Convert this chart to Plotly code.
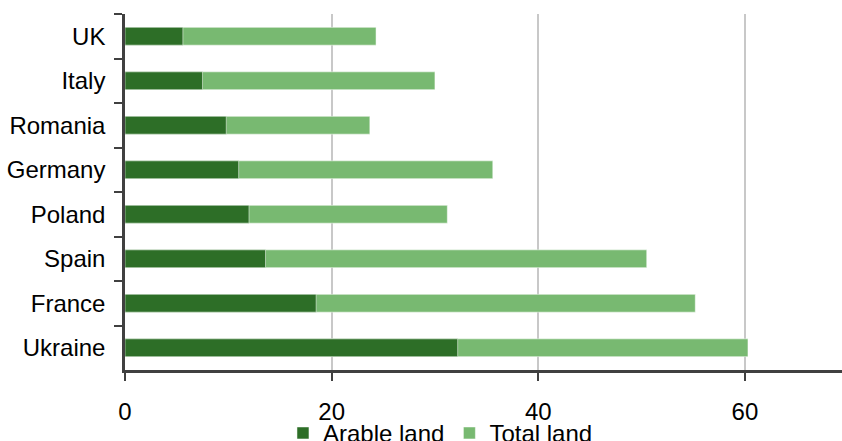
import plotly.graph_objects as go

# Land area by country (million hectares), listed top to bottom
countries = ["UK", "Italy", "Romania", "Germany", "Poland", "Spain", "France", "Ukraine"]
arable_land = [5.6, 7.5, 9.8, 11.0, 12.0, 13.6, 18.5, 32.2]
total_land = [24.3, 30.0, 23.7, 35.6, 31.2, 50.5, 55.2, 60.3]

x_ticks = [0, 20, 40, 60]

DARK_GREEN = "#2d6e27"
LIGHT_GREEN = "#78b971"
AXIS_GREY = "#404040"
FONT = "Liberation Sans, Arial, sans-serif"

fig = go.Figure()

# Total land drawn first, arable land overlaid on top of it
fig.add_trace(go.Bar(
    y=countries, x=total_land, orientation="h", name="Total land",
    marker=dict(color=LIGHT_GREEN, line=dict(color="rgba(255,255,255,0.5)", width=1)),
    legendrank=2,
))
fig.add_trace(go.Bar(
    y=countries, x=arable_land, orientation="h", name="Arable land",
    marker=dict(color=DARK_GREEN, line=dict(color="rgba(255,255,255,0.5)", width=1)),
    legendrank=1,
))

fig.update_layout(
    width=842, height=441,
    barmode="overlay", bargap=0.6,
    plot_bgcolor="white", paper_bgcolor="white",
    margin=dict(l=125, r=0, t=14, b=71, autoexpand=False),
    font=dict(family=FONT, size=24, color="black"),
    showlegend=True,
    legend=dict(
        orientation="h", x=0.44, xanchor="center", y=-0.178, yanchor="middle",
        font=dict(size=24), traceorder="normal", itemwidth=30,
        bgcolor="rgba(0,0,0,0)", tracegroupgap=0, itemclick=False,
    ),
    xaxis=dict(
        range=[0, 69.4], tickvals=x_ticks, ticktext=[str(v) for v in x_ticks],
        showgrid=True, gridcolor="#c8c8c8", gridwidth=2,
        showline=True, linecolor=AXIS_GREY, linewidth=2.5,
        ticks="outside", ticklen=8, tickwidth=2, tickcolor=AXIS_GREY,
        ticklabelstandoff=10, zeroline=False,
        tickfont=dict(size=24),
    ),
    yaxis=dict(
        type="category", range=[7.5, -0.5], tickson="boundaries",
        showgrid=False, showline=True, linecolor=AXIS_GREY, linewidth=2.5,
        ticks="outside", ticklen=8, tickwidth=2, tickcolor=AXIS_GREY,
        ticklabelstandoff=12, tickfont=dict(size=24),
    ),
)

fig.write_html("out.html")
